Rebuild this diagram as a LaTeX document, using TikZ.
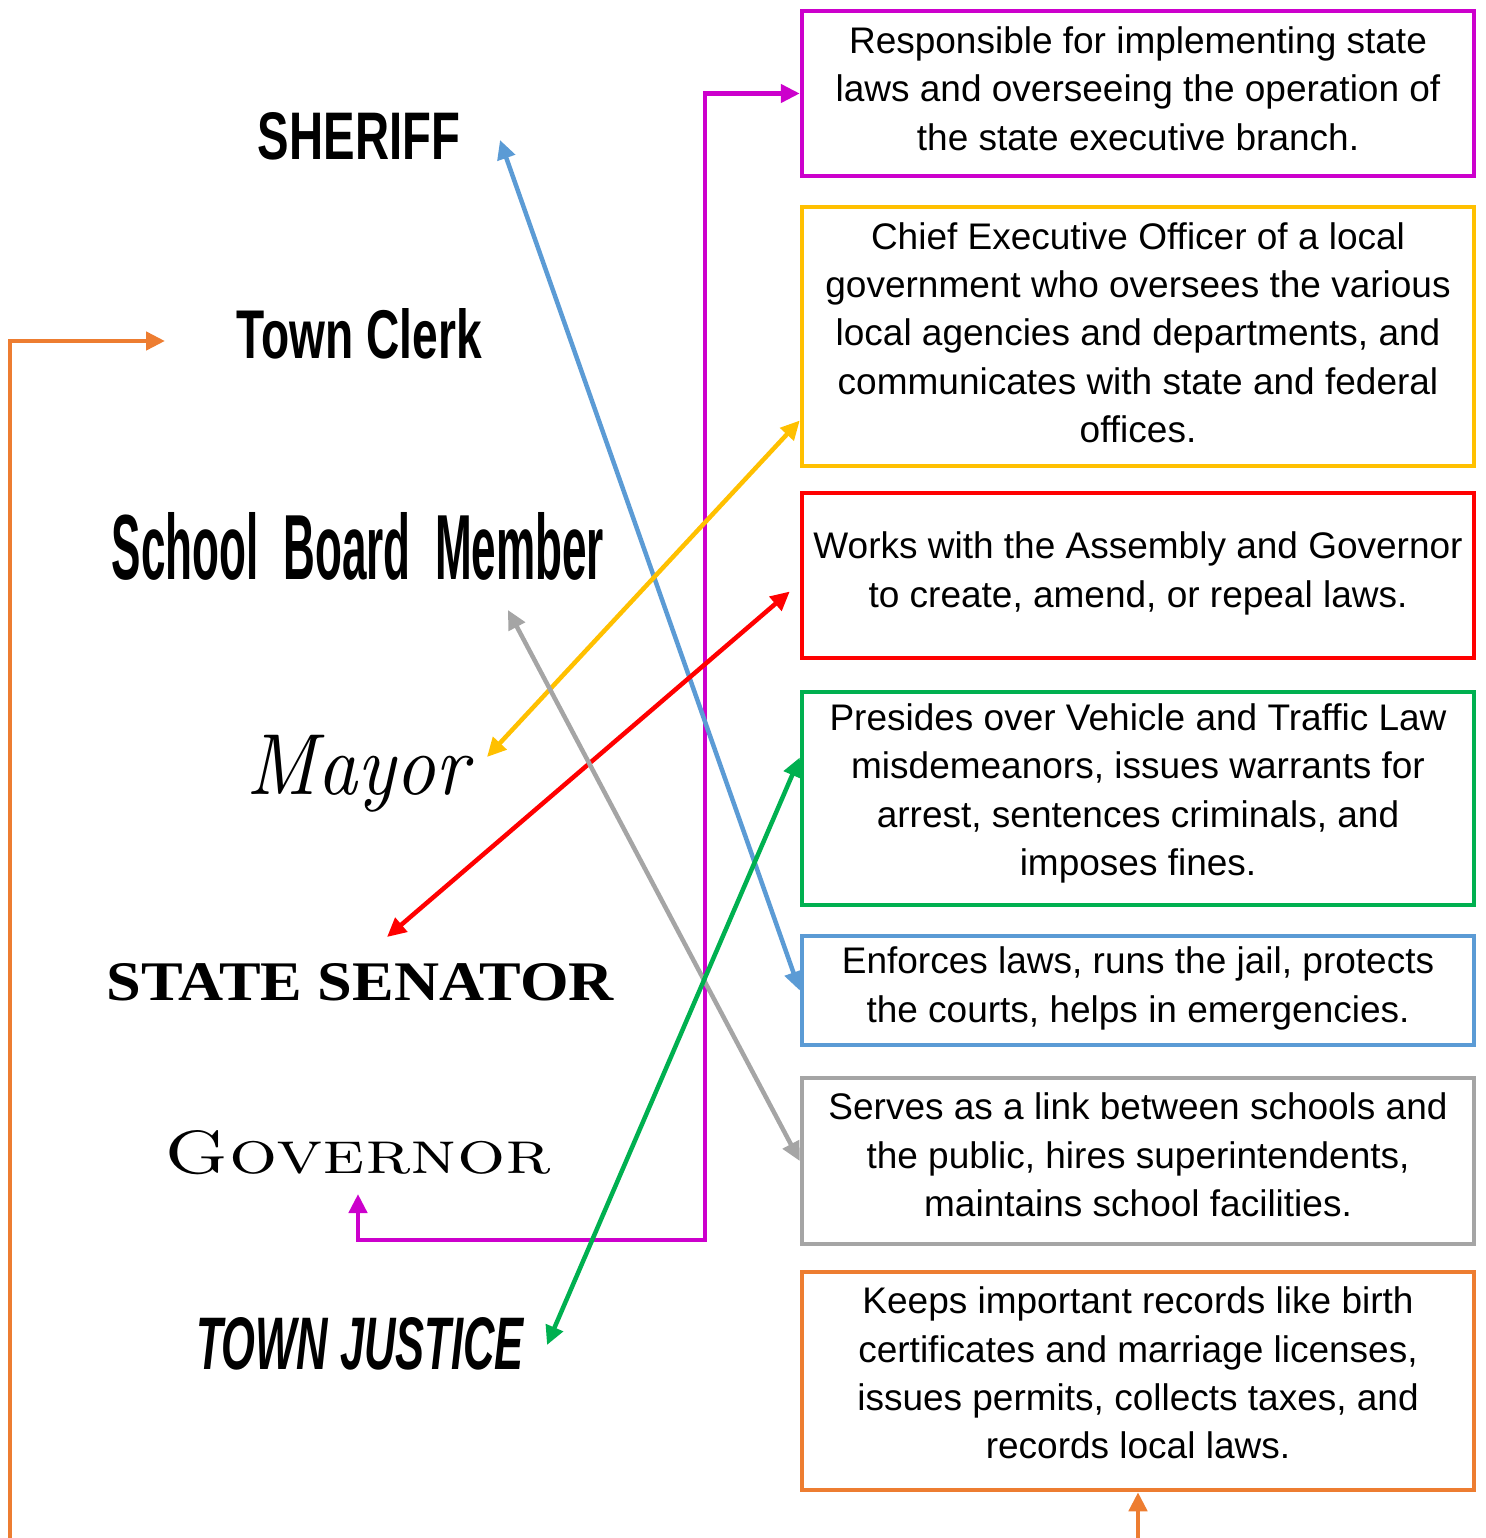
\documentclass[tikz,border=0pt]{standalone}
\usepackage{fontspec}
\usepackage{graphicx}
\newfontfamily\arialfont{Liberation Sans}
\newfontfamily\timesfont{Liberation Serif}
\definecolor{magenta}{RGB}{204,0,204}
\definecolor{yellow}{RGB}{255,192,0}
\definecolor{red}{RGB}{255,0,0}
\definecolor{green}{RGB}{0,176,80}
\definecolor{blue}{RGB}{91,155,213}
\definecolor{gray}{RGB}{165,165,165}
\definecolor{orange}{RGB}{237,125,49}
\usetikzlibrary{arrows.meta}
\tikzset{
  duty/.style={draw, line width=4.5pt, minimum width=672pt, inner sep=0pt},
  dutytext/.style={inner sep=0pt, align=center,
    font={\arialfont\fontsize{37}{48.3}\selectfont}},
  office/.style={inner sep=0pt, outer sep=0pt},
  link/.style={line width=4.5pt,
    {Triangle[length=19pt,width=18pt]}-{Triangle[length=19pt,width=18pt]}}
}

\begin{document}
\begin{tikzpicture}[x=1pt,y=-1pt]
  \clip (0,0) rectangle (1485,1538);
  %% Offices on the left
  \node[office] (sheriff) at (359,136.5) {\resizebox{202pt}{47pt}{\arialfont\bfseries SHERIFF}};
  \node[office] (clerk) at (359.5,334) {\resizebox{245pt}{50pt}{\arialfont\bfseries Town Clerk}};
  \node[office] (board) at (358,546.5) {\resizebox{492pt}{67pt}{\arialfont\bfseries School\ \ Board\ \ Member}};
  \node[office] (mayor) at (357.5,773.5) {\resizebox*{221pt}{77pt}{\itshape Mayor}};
  \node[office] (senator) at (360.5,982.5) {\resizebox{507pt}{37pt}{\timesfont\bfseries STATE SENATOR}};
  \node[office] (gov) at (358,1152.5) {\resizebox{386pt}{43pt}{\textsc{Governor}}};
  \node[office] (justice) at (360,1344) {\resizebox{328pt}{52pt}{\arialfont\bfseries\itshape TOWN JUSTICE}};

  %% Duties on the right
  \node[duty, draw=magenta, minimum height=165pt] (b1) at (1138,93.5) {};
  \node[duty, draw=yellow, minimum height=259pt] (b2) at (1138,336.5) {};
  \node[duty, draw=red, minimum height=165pt] (b3) at (1138,575.5) {};
  \node[duty, draw=green, minimum height=213pt] (b4) at (1138,798.5) {};
  \node[duty, draw=blue, minimum height=109pt] (b5) at (1138,990.5) {};
  \node[duty, draw=gray, minimum height=166pt] (b6) at (1138,1161) {};
  \node[duty, draw=orange, minimum height=218pt] (b7) at (1138,1381) {};

  \node[dutytext] (t1) at ([yshift=5pt]b1) {Responsible for implementing state\\laws and overseeing the operation of\\the state executive branch.};
  \node[dutytext] (t2) at ([yshift=4pt]b2) {Chief Executive Officer of a local\\government who oversees the various\\local agencies and departments, and\\communicates with state and federal\\offices.};
  \node[dutytext] (t3) at ([yshift=2pt]b3) {Works with the Assembly and Governor\\to create, amend, or repeal laws.};
  \node[dutytext] (t4) at ([yshift=5pt]b4) {Presides over Vehicle and Traffic Law\\misdemeanors, issues warrants for\\arrest, sentences criminals, and\\imposes fines.};
  \node[dutytext] (t5) at ([yshift=2pt]b5) {Enforces laws, runs the jail, protects\\the courts, helps in emergencies.};
  \node[dutytext] (t6) at ([yshift=6pt]b6) {Serves as a link between schools and\\the public, hires superintendents,\\maintains school facilities.};
  \node[dutytext] (t7) at ([yshift=8pt]b7) {Keeps important records like birth\\certificates and marriage licenses,\\issues permits, collects taxes, and\\records local laws.};

  %% Loose ends next to the offices
  \coordinate (sheriffend) at (500,140);
  \coordinate (clerkend) at (165,341);
  \coordinate (boardend) at (508,610);
  \coordinate (mayorend) at (487,757);
  \coordinate (senatorend) at (387,937);
  \coordinate (govend) at (358,1194);
  \coordinate (justiceend) at (547,1345);

  %% Matching lines
  \draw[link, magenta] (govend) |- (705,1240) |- (b1.west);
  \draw[link, orange] (b7.south) -- (1138,1560) -| (10,341) -- (clerkend);
  \draw[link, blue] (sheriffend) -- (b5.west);
  \draw[link, yellow] (mayorend) -- ([yshift=-84pt]b2.west);
  \draw[link, red] (senatorend) -- ([shift={(-10pt,-16pt)}]b3.west);
  \draw[link, gray] (boardend) -- (b6.west);
  \draw[link, green] (justiceend) -- ([yshift=41pt]b4.west);
\end{tikzpicture}
\end{document}
